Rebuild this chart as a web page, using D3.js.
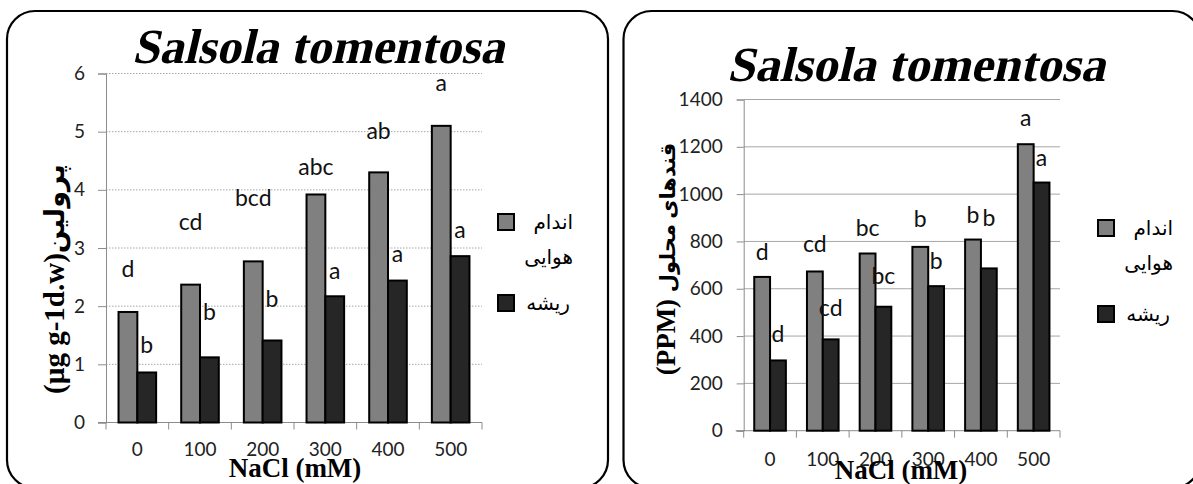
<!DOCTYPE html>
<meta charset="utf-8">
<style>
  body { margin: 0; background: #fff; }
</style>
<body>
<script src="https://cdn.jsdelivr.net/npm/d3@7"></script>
<script>
// data
var categories = ["0", "100", "200", "300", "400", "500"];
var seriesNames = ["shoot", "root"];

var prolineTicks = [0, 1, 2, 3, 4, 5, 6];
var prolineShoot = [1.90, 2.37, 2.77, 3.92, 4.30, 5.10];
var prolineRoot = [0.86, 1.12, 1.41, 2.17, 2.44, 2.86];
var prolineShootLetters = ["d", "cd", "bcd", "abc", "ab", "a"];
var prolineRootLetters = ["b", "b", "b", "a", "a", "a"];
// height (in y units) at which each letter sits
var prolineShootLetterAt = [2.64, 3.45, 3.86, 4.39, 5.01, 5.85];
var prolineRootLetterAt = [1.33, 1.90, 2.12, 2.61, 2.90, 3.31];

var sugarTicks = [0, 200, 400, 600, 800, 1000, 1200, 1400];
var sugarShoot = [650, 673, 749, 777, 808, 1211];
var sugarRoot = [297, 386, 524, 611, 686, 1049];
var sugarShootLetters = ["d", "cd", "bc", "b", "b", "a"];
var sugarRootLetters = ["d", "cd", "bc", "b", "b", "a"];
var sugarShootLetterAt = [756, 789, 858, 894, 911, 1324];
var sugarRootLetterAt = [408, 518, 654, 718, 899, 1155];

var titleText = "Salsola tomentosa";
var xTitle = "NaCl (mM)";
var legendShoot = ["اندام", "هوایی"];
var legendRoot = "ریشه";

var colors = { shoot: "#808080", root: "#262626" };

var svg = d3.select("body").append("svg")
  .attr("width", 1193)
  .attr("height", 484);

function drawChart(o) {
  var g = svg.append("g");

  // rounded frame
  g.append("rect")
    .attr("x", o.frame[0]).attr("y", o.frame[1])
    .attr("width", o.frame[2]).attr("height", o.frame[3])
    .attr("rx", 28).attr("ry", 28)
    .style("fill", "none").style("stroke", "#000").style("stroke-width", 2.2);

  var x = d3.scaleBand().domain(categories)
    .range([o.left, o.right]).paddingInner(0.4).paddingOuter(0.2);
  var xs = d3.scaleBand().domain(seriesNames).range([0, x.bandwidth()]);
  var y = d3.scaleLinear().domain([0, d3.max(o.ticks)]).range([o.bottom, o.top]);

  // gridlines
  g.selectAll(".grid")
    .data(o.ticks.slice(1))
    .enter().append("line")
    .attr("x1", o.left).attr("x2", o.right)
    .attr("y1", function(d) { return y(d); })
    .attr("y2", function(d) { return y(d); })
    .style("stroke", o.gridColor)
    .style("stroke-width", 1)
    .style("stroke-dasharray", o.gridDash);

  // y axis
  var yAxis = g.append("g")
    .attr("transform", "translate(" + o.left + ",0)")
    .call(d3.axisLeft(y).tickValues(o.ticks).tickFormat(d3.format("d"))
      .tickSize(o.yTick).tickPadding(o.yPad));
  yAxis.select(".domain").style("stroke", "#8c8c8c");
  yAxis.selectAll(".tick line").style("stroke", "#8c8c8c");
  yAxis.selectAll("text")
    .style("font-family", "Lato, 'Open Sans', sans-serif")
    .style("font-size", "19px")
    .style("fill", "#222");

  // x axis: labels at band centres, tick marks between categories
  var xAxis = g.append("g")
    .attr("transform", "translate(0," + o.bottom + ")")
    .call(d3.axisBottom(x).tickSize(0).tickPadding(o.xPad));
  xAxis.select(".domain").remove();
  xAxis.selectAll("text")
    .style("font-family", "Lato, 'Open Sans', sans-serif")
    .style("font-size", "19px")
    .style("fill", "#222");
  g.append("line")
    .attr("x1", o.left - 8).attr("x2", o.right)
    .attr("y1", o.bottom).attr("y2", o.bottom)
    .style("stroke", "#8c8c8c");
  g.selectAll(".xtick")
    .data(d3.range(categories.length + 1))
    .enter().append("line")
    .attr("x1", function(i) { return o.left + i * x.step(); })
    .attr("x2", function(i) { return o.left + i * x.step(); })
    .attr("y1", o.bottom).attr("y2", o.bottom + 7)
    .style("stroke", "#8c8c8c");

  // bars
  var rows = categories.map(function(c, i) {
    return [
      { cat: c, s: "shoot", v: o.shoot[i], letter: o.shootLetters[i], at: o.shootAt[i] },
      { cat: c, s: "root", v: o.root[i], letter: o.rootLetters[i], at: o.rootAt[i] }
    ];
  });
  var flat = d3.merge(rows);

  g.selectAll(".bar")
    .data(flat)
    .enter().append("rect")
    .attr("x", function(d) { return x(d.cat) + xs(d.s); })
    .attr("y", function(d) { return y(d.v); })
    .attr("width", xs.bandwidth())
    .attr("height", function(d) { return o.bottom - y(d.v); })
    .style("fill", function(d) { return colors[d.s]; })
    .style("stroke", "#000")
    .style("stroke-width", 2);

  g.selectAll(".letter")
    .data(flat)
    .enter().append("text")
    .attr("x", function(d) { return x(d.cat) + xs(d.s) + xs.bandwidth() / 2; })
    .attr("y", function(d) { return y(d.at); })
    .attr("dy", "0.36em")
    .attr("text-anchor", "middle")
    .style("font-family", "Lato, 'Open Sans', sans-serif")
    .style("font-size", "23px")
    .style("fill", "#111")
    .text(function(d) { return d.letter; });

  // title (bold serif, slanted)
  g.append("text")
    .attr("transform", "translate(" + o.titleX + "," + o.titleY + ") skewX(-13)")
    .attr("text-anchor", "middle")
    .attr("textLength", o.titleW)
    .attr("lengthAdjust", "spacingAndGlyphs")
    .style("font-family", "'Liberation Serif', serif")
    .style("font-weight", "bold")
    .style("font-size", "49px")
    .text(titleText);

  // axis titles
  var yt = g.append("text")
    .attr("transform", "translate(" + o.yTitleX + "," + o.yTitleY + ") rotate(-90)")
    .attr("text-anchor", "middle")
    .attr("dy", "0.35em")
    .style("font-family", "'Liberation Serif', 'DejaVu Sans', serif")
    .style("font-weight", "bold");
  yt.append("tspan").style("font-size", o.yTitleSize[0] + "px").text(o.yTitle[0]);
  yt.append("tspan").style("font-size", o.yTitleSize[1] + "px").text(o.yTitle[1]);

  g.append("text")
    .attr("x", o.xTitleX).attr("y", o.xTitleY)
    .attr("text-anchor", "middle")
    .style("font-family", "'Liberation Serif', serif")
    .style("font-weight", "bold")
    .style("font-size", "27px")
    .text(xTitle);

  // legend
  var lg = g.append("g").attr("transform", "translate(" + o.legX + "," + o.legY + ")");
  lg.append("rect")
    .attr("x", 0).attr("y", -8).attr("width", 16).attr("height", 16)
    .style("fill", colors.shoot).style("stroke", "#000").style("stroke-width", 2);
  lg.append("rect")
    .attr("x", 0).attr("y", o.legGap - 8).attr("width", 16).attr("height", 16)
    .style("fill", colors.root).style("stroke", "#000").style("stroke-width", 2);
  lg.selectAll(".lt")
    .data(legendShoot)
    .enter().append("text")
    .attr("x", 75)
    .attr("y", function(d, i) { return i * 35; })
    .attr("dy", "0.35em")
    .attr("text-anchor", "end")
    .style("font-family", "'DejaVu Sans', sans-serif")
    .style("font-size", "20px")
    .text(function(d) { return d; });
  lg.append("text")
    .attr("x", 72).attr("y", o.legGap)
    .attr("dy", "0.35em")
    .attr("text-anchor", "end")
    .style("font-family", "'DejaVu Sans', sans-serif")
    .style("font-size", "20px")
    .text(legendRoot);
}

drawChart({
  frame: [7, 11, 601, 477],
  left: 106, right: 482, top: 73.5, bottom: 422.5,
  ticks: prolineTicks, yTick: 8, yPad: 13, xPad: 20,
  gridColor: "#a6a6a6", gridDash: "1.5,1.5",
  shoot: prolineShoot, root: prolineRoot,
  shootLetters: prolineShootLetters, rootLetters: prolineRootLetters,
  shootAt: prolineShootLetterAt, rootAt: prolineRootLetterAt,
  titleX: 318, titleY: 63, titleW: 372,
  yTitle: ["(µg g-1d.w)", "پرولین"], yTitleSize: [29, 27], yTitleX: 58, yTitleY: 279,
  xTitleX: 295, xTitleY: 477,
  legX: 498, legY: 222, legGap: 81
});

drawChart({
  frame: [623.5, 11, 577, 477],
  left: 743.7, right: 1060, top: 99.5, bottom: 430.7,
  ticks: sugarTicks, yTick: 7, yPad: 14, xPad: 22,
  gridColor: "#a6a6a6", gridDash: null,
  shoot: sugarShoot, root: sugarRoot,
  shootLetters: sugarShootLetters, rootLetters: sugarRootLetters,
  shootAt: sugarShootLetterAt, rootAt: sugarRootLetterAt,
  titleX: 916, titleY: 81, titleW: 378,
  yTitle: ["(PPM) ", "قندهای محلول"], yTitleSize: [27, 21], yTitleX: 669, yTitleY: 259,
  xTitleX: 901, xTitleY: 479,
  legX: 1098, legY: 228, legGap: 86
});
</script>
</body>
